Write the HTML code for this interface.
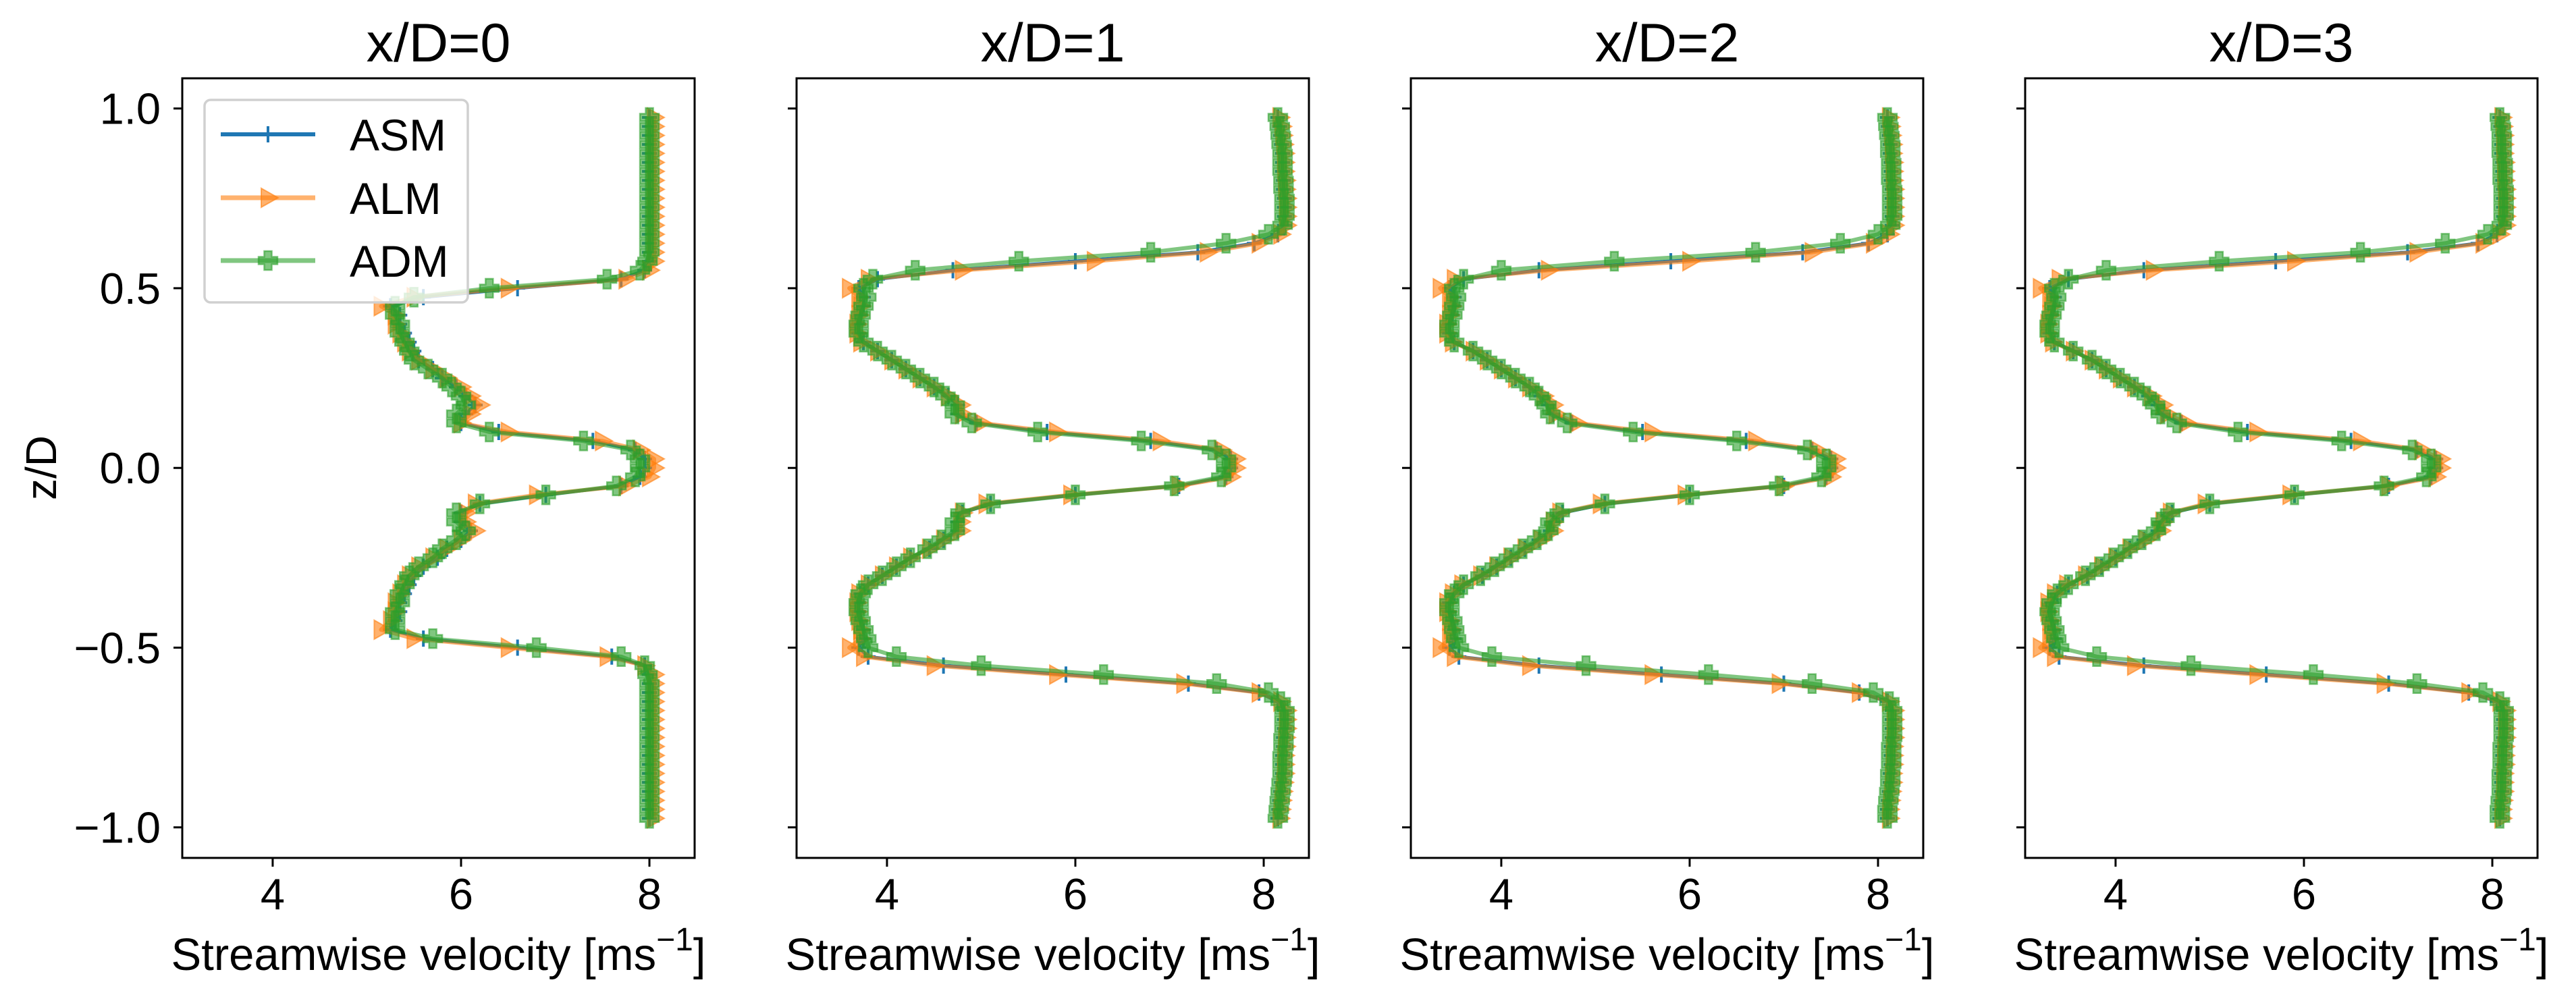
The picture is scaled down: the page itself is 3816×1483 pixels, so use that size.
<!DOCTYPE html>
<html><head><meta charset="utf-8">
<style>
html,body{margin:0;padding:0;background:#fff;}
svg{display:block;font-family:"Liberation Sans",Arial,sans-serif;}
</style></head>
<body>
<svg id="fig" width="3816" height="1483" viewBox="0 0 3816 1483"></svg>
<script>
const zPos = [0.975,0.95,0.925,0.9,0.875,0.85,0.825,0.8,0.775,0.75,0.725,0.7,0.675,0.65,0.625,0.6,0.575,0.55,0.525,0.5,0.475,0.45,0.425,0.4,0.375,0.35,0.325,0.3,0.275,0.25,0.225,0.2,0.175,0.15,0.125,0.1,0.075,0.05,0.025,0,-0.025,-0.05,-0.075,-0.1,-0.125,-0.15,-0.175,-0.2,-0.225,-0.25,-0.275,-0.3,-0.325,-0.35,-0.375,-0.4,-0.425,-0.45,-0.475,-0.5,-0.525,-0.55,-0.575,-0.6,-0.625,-0.65,-0.675,-0.7,-0.725,-0.75,-0.775,-0.8,-0.825,-0.85,-0.875,-0.9,-0.925,-0.95,-0.975];
const panelTitles = ["x/D=0","x/D=1","x/D=2","x/D=3"];
const seriesNames = ["ASM","ALM","ADM"];
const xTicks = [4,6,8];
const yTicks = [1.0,0.5,0.0,-0.5,-1.0];
const yTickLabels = ["1.0","0.5","0.0","\u22120.5","\u22121.0"];

// x/D=0
const asm0 = [8.0,8.0,8.0,8.0,8.0,8.0,8.0,8.0,8.0,8.0,8.0,8.0,8.0,8.0,8.0,8.0,8.0,7.95,7.7,6.6,5.6,5.25,5.35,5.35,5.4,5.45,5.5,5.55,5.7,5.8,5.95,6.05,6.15,6.05,6.0,6.4,7.4,7.85,7.95,7.95,7.9,7.7,6.9,6.2,6.0,6.0,6.1,6.0,5.85,5.75,5.6,5.5,5.45,5.4,5.35,5.35,5.3,5.25,5.6,6.6,7.6,7.95,8.0,8.0,8.0,8.0,8.0,8.0,8.0,8.0,8.0,8.0,8.0,8.0,8.0,8.0,8.0,8.0,8.0];
const alm0 = [8.05,8.05,8.05,8.05,8.05,8.05,8.05,8.05,8.05,8.05,8.05,8.05,8.05,8.05,8.05,8.05,8.05,8.0,7.75,6.5,5.5,5.15,5.3,5.3,5.35,5.4,5.45,5.55,5.7,5.85,6.0,6.1,6.2,6.1,6.0,6.5,7.5,7.9,8.05,8.05,8.0,7.75,6.8,6.15,6.05,6.05,6.15,6.0,5.85,5.7,5.55,5.45,5.4,5.35,5.3,5.3,5.25,5.15,5.5,6.5,7.55,7.95,8.05,8.05,8.05,8.05,8.05,8.05,8.05,8.05,8.05,8.05,8.05,8.05,8.05,8.05,8.05,8.05,8.05];
const adm0 = [8.0,8.0,8.0,8.0,8.0,8.0,8.0,8.0,8.0,8.0,8.0,8.0,8.0,8.0,8.0,8.0,7.98,7.9,7.55,6.3,5.5,5.3,5.3,5.35,5.35,5.4,5.45,5.5,5.65,5.8,5.9,6.0,6.05,5.95,5.95,6.3,7.3,7.8,7.9,7.9,7.85,7.65,6.9,6.2,5.95,5.95,6.05,5.95,5.8,5.7,5.55,5.45,5.4,5.35,5.35,5.3,5.3,5.3,5.7,6.8,7.7,7.95,7.98,8.0,8.0,8.0,8.0,8.0,8.0,8.0,8.0,8.0,8.0,8.0,8.0,8.0,8.0,8.0,8.0];
// x/D=1
const asm1 = [8.15,8.17,8.18,8.19,8.2,8.2,8.2,8.21,8.21,8.22,8.22,8.22,8.22,8.15,7.9,7.3,6.0,4.7,3.9,3.7,3.75,3.75,3.72,3.7,3.7,3.75,3.9,4.05,4.2,4.35,4.5,4.65,4.75,4.75,4.95,5.7,6.8,7.5,7.65,7.65,7.6,7.1,6.0,5.1,4.8,4.75,4.75,4.6,4.45,4.25,4.1,3.95,3.8,3.72,3.7,3.7,3.72,3.75,3.75,3.7,3.8,4.6,5.9,7.2,7.95,8.15,8.22,8.22,8.22,8.21,8.21,8.2,8.2,8.2,8.19,8.18,8.17,8.16,8.15];
const alm1 = [8.17,8.19,8.2,8.21,8.22,8.22,8.22,8.23,8.23,8.24,8.24,8.24,8.24,8.18,7.95,7.4,6.2,4.8,3.8,3.6,3.7,3.72,3.7,3.68,3.68,3.72,3.9,4.05,4.2,4.35,4.5,4.65,4.78,4.8,5.0,5.8,6.9,7.55,7.7,7.7,7.65,7.1,5.95,5.05,4.8,4.78,4.78,4.6,4.45,4.25,4.1,3.95,3.8,3.7,3.68,3.68,3.7,3.72,3.72,3.6,3.75,4.5,5.8,7.15,7.95,8.18,8.24,8.24,8.24,8.23,8.23,8.22,8.22,8.22,8.21,8.2,8.19,8.18,8.17];
const adm1 = [8.15,8.17,8.18,8.19,8.2,8.2,8.2,8.21,8.21,8.22,8.22,8.22,8.2,8.05,7.6,6.8,5.4,4.3,3.85,3.75,3.78,3.75,3.72,3.7,3.7,3.75,3.9,4.05,4.2,4.35,4.5,4.62,4.72,4.72,4.9,5.6,6.7,7.45,7.6,7.6,7.55,7.05,6.0,5.1,4.78,4.72,4.72,4.58,4.43,4.25,4.1,3.95,3.8,3.72,3.7,3.7,3.72,3.75,3.78,3.8,4.1,5.0,6.3,7.5,8.05,8.18,8.22,8.22,8.22,8.21,8.21,8.2,8.2,8.2,8.19,8.18,8.17,8.16,8.15];
// x/D=2
const asm2 = [8.1,8.11,8.12,8.13,8.13,8.14,8.14,8.14,8.15,8.15,8.15,8.15,8.15,8.1,7.9,7.2,5.8,4.4,3.6,3.45,3.5,3.5,3.48,3.45,3.45,3.5,3.7,3.85,4.0,4.15,4.3,4.42,4.5,4.55,4.75,5.5,6.6,7.3,7.5,7.5,7.45,7.0,6.0,5.1,4.65,4.55,4.52,4.4,4.25,4.1,3.95,3.8,3.6,3.5,3.45,3.45,3.48,3.5,3.5,3.45,3.55,4.4,5.7,7.0,7.8,8.1,8.15,8.15,8.15,8.15,8.14,8.14,8.14,8.13,8.13,8.12,8.11,8.1,8.1];
const alm2 = [8.12,8.13,8.14,8.15,8.15,8.16,8.16,8.16,8.17,8.17,8.17,8.17,8.17,8.12,7.95,7.3,6.0,4.5,3.5,3.35,3.45,3.47,3.45,3.42,3.42,3.48,3.7,3.85,4.0,4.15,4.3,4.45,4.55,4.58,4.8,5.6,6.7,7.35,7.55,7.55,7.5,7.0,5.95,5.05,4.62,4.55,4.55,4.42,4.25,4.1,3.95,3.78,3.58,3.48,3.42,3.42,3.45,3.47,3.45,3.35,3.5,4.3,5.6,6.95,7.8,8.12,8.17,8.17,8.17,8.17,8.16,8.16,8.16,8.15,8.15,8.14,8.13,8.12,8.12];
const adm2 = [8.1,8.11,8.12,8.13,8.13,8.14,8.14,8.14,8.15,8.15,8.15,8.15,8.13,8.0,7.6,6.7,5.2,4.0,3.6,3.5,3.52,3.5,3.48,3.45,3.45,3.5,3.7,3.85,4.0,4.15,4.3,4.4,4.48,4.52,4.7,5.4,6.5,7.25,7.45,7.45,7.4,6.95,6.0,5.1,4.62,4.52,4.5,4.38,4.23,4.08,3.93,3.78,3.6,3.5,3.45,3.45,3.48,3.5,3.52,3.55,3.9,4.9,6.2,7.3,7.95,8.12,8.15,8.15,8.15,8.15,8.14,8.14,8.14,8.13,8.13,8.12,8.11,8.1,8.1];
// x/D=3
const asm3 = [8.08,8.09,8.1,8.1,8.1,8.11,8.11,8.11,8.12,8.12,8.12,8.12,8.12,8.05,7.85,7.1,5.7,4.3,3.5,3.3,3.35,3.35,3.32,3.3,3.3,3.35,3.55,3.75,3.9,4.05,4.2,4.35,4.45,4.5,4.7,5.4,6.5,7.2,7.4,7.4,7.35,6.9,5.9,5.0,4.6,4.5,4.45,4.3,4.15,4.0,3.85,3.7,3.5,3.38,3.32,3.3,3.32,3.35,3.35,3.3,3.4,4.3,5.6,6.9,7.75,8.05,8.12,8.12,8.12,8.12,8.11,8.11,8.11,8.1,8.1,8.1,8.09,8.08,8.08];
const alm3 = [8.1,8.11,8.12,8.12,8.12,8.13,8.13,8.13,8.14,8.14,8.14,8.14,8.14,8.08,7.9,7.2,5.9,4.4,3.4,3.2,3.3,3.32,3.3,3.28,3.28,3.33,3.55,3.75,3.9,4.05,4.2,4.38,4.5,4.55,4.75,5.5,6.6,7.25,7.45,7.45,7.4,6.9,5.85,4.95,4.58,4.5,4.48,4.32,4.15,4.0,3.85,3.68,3.48,3.35,3.28,3.28,3.3,3.32,3.3,3.2,3.35,4.2,5.5,6.85,7.75,8.08,8.14,8.14,8.14,8.14,8.13,8.13,8.13,8.12,8.12,8.12,8.11,8.1,8.1];
const adm3 = [8.08,8.09,8.1,8.1,8.1,8.11,8.11,8.11,8.12,8.12,8.12,8.12,8.1,7.95,7.5,6.6,5.1,3.9,3.5,3.35,3.37,3.35,3.32,3.3,3.3,3.35,3.55,3.75,3.9,4.05,4.2,4.33,4.42,4.48,4.65,5.3,6.4,7.15,7.35,7.35,7.3,6.85,5.9,5.0,4.58,4.48,4.43,4.28,4.13,3.98,3.83,3.68,3.5,3.38,3.32,3.3,3.32,3.35,3.37,3.4,3.8,4.8,6.1,7.2,7.9,8.08,8.12,8.12,8.12,8.12,8.11,8.11,8.11,8.1,8.1,8.1,8.09,8.08,8.08];

const panelSeries = [[asm0,alm0,adm0],[asm1,alm1,adm1],[asm2,alm2,adm2],[asm3,alm3,adm3]];

const NS = "http://www.w3.org/2000/svg";
const svg = document.getElementById('fig');
const colors = ["#1f77b4","#ff7f0e","#2ca02c"];
const axLefts = [270,1180,2090,3000];
const axW = 759, axTop = 116, axH = 1155;
const xMin = 3.04, xMax = 8.48, yMin = -1.085, yMax = 1.084;
const lineW = [5,6,6];

function mk(tag, attrs, parent){
  const e = document.createElementNS(NS, tag);
  for (const k in attrs) e.setAttribute(k, attrs[k]);
  (parent||svg).appendChild(e);
  return e;
}
function markerEl(type, cx, cy, g, color){
  let e;
  if (type===0){
    e = mk('path',{d:`M${cx-11},${cy}H${cx+11}M${cx},${cy-12}V${cy+12}`,stroke:color,'stroke-width':4,fill:'none'},g);
  } else if (type===1){
    e = mk('path',{d:`M${cx+15},${cy}L${cx-10},${cy-14}L${cx-10},${cy+14}Z`,fill:color,'fill-opacity':0.6,stroke:color,'stroke-opacity':0.6,'stroke-width':2},g);
  } else {
    const a=5.5,b=14;
    e = mk('path',{d:`M${cx-a},${cy-b}H${cx+a}V${cy-a}H${cx+b}V${cy+a}H${cx+a}V${cy+b}H${cx-a}V${cy+a}H${cx-b}V${cy-a}H${cx-a}Z`,fill:color,'fill-opacity':0.6,stroke:color,'stroke-opacity':0.6,'stroke-width':2.5},g);
  }
  return e;
}

panelSeries.forEach((series, p) => {
  const L = axLefts[p];
  const sx = u => L + (u - xMin)/(xMax - xMin)*axW;
  const sy = z => axTop + (yMax - z)/(yMax - yMin)*axH;
  const g = mk('g',{});
  
  

  const clipId = 'clip'+p;
  const cp = mk('clipPath',{id:clipId},g);
  mk('rect',{x:L,y:axTop,width:axW,height:axH},cp);

  const title = mk('text',{x:L+axW/2,y:91,'font-size':81,'text-anchor':'middle',fill:'#000'},g);
  title.textContent = panelTitles[p];
  
  

  const plot = mk('g',{'clip-path':`url(#${clipId})`},g);
  series.forEach((vals, s) => {
    const sg = mk('g',{},plot);
    
    
    const pts = vals.map((v,i)=> sx(v).toFixed(1)+','+sy(zPos[i]).toFixed(1)).join(' ');
    const line = mk('polyline',{points:pts,fill:'none',stroke:colors[s],'stroke-width':lineW[s],'stroke-opacity':s===0?1:0.6,'stroke-linejoin':'round'},sg);
    
    
    vals.forEach((v,i)=>{
      const m = markerEl(s, sx(v), sy(zPos[i]), sg, colors[s]);
      
      
    });
  });

  const frame = mk('rect',{x:L,y:axTop,width:axW,height:axH,fill:'none',stroke:'#000','stroke-width':3},g);
  
  

  xTicks.forEach(t=>{
    const x = sx(t);
    mk('line',{x1:x,y1:axTop+axH,x2:x,y2:axTop+axH+13,stroke:'#000','stroke-width':3},g);
    const tl = mk('text',{x:x,y:1347,'font-size':65,'text-anchor':'middle',fill:'#000'},g);
    tl.textContent = t;
    
    
  });
  yTicks.forEach((t,i)=>{
    const y = sy(t);
    mk('line',{x1:L-13,y1:y,x2:L,y2:y,stroke:'#000','stroke-width':3},g);
    if (p===0){
      const tl = mk('text',{x:L-32,y:y+23,'font-size':65,'text-anchor':'end',fill:'#000'},g);
      tl.textContent = yTickLabels[i];
      
      
    }
  });

  const xl = mk('text',{x:L+axW/2,y:1437,'font-size':67,'text-anchor':'middle',fill:'#000'},g);
  
  
  xl.appendChild(document.createTextNode('Streamwise velocity [ms'));
  const sup = mk('tspan',{'font-size':48,dy:-29},xl);
  sup.textContent = '\u22121';
  const cl = mk('tspan',{'font-size':67,dy:29},xl);
  cl.textContent = ']';
});

const yl = mk('text',{x:0,y:0,'font-size':64,'text-anchor':'middle',fill:'#000',transform:'translate(83,693) rotate(-90)'});
yl.textContent = 'z/D';



// legend
const lg = mk('g',{});


mk('rect',{x:303,y:148,width:390,height:300,rx:9,fill:'#fff','fill-opacity':0.8,stroke:'#d0d0d0','stroke-width':3.5},lg);
const legY = [199,293,386];
seriesNames.forEach((n,s)=>{
  const eg = mk('g',{},lg);
  
  
  mk('line',{x1:327,y1:legY[s],x2:467,y2:legY[s],stroke:colors[s],'stroke-width':lineW[s]+1,'stroke-opacity':s===0?1:0.6},eg);
  markerEl(s, 397, legY[s], eg, colors[s]);
  const t = mk('text',{x:518,y:legY[s]+24,'font-size':66,fill:'#000'},eg);
  t.textContent = n;
});
</script>
</body></html>
